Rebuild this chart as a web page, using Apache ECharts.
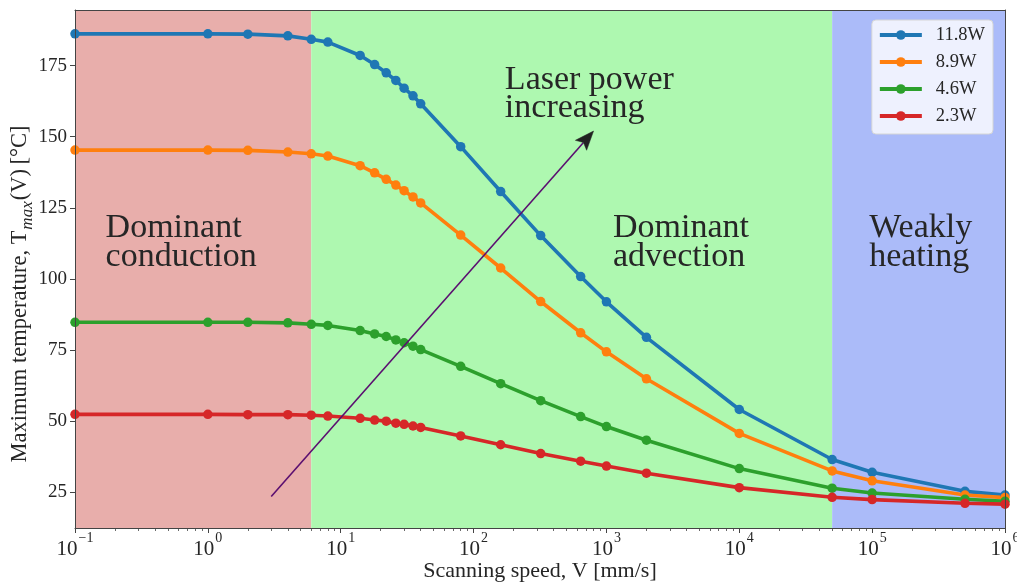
<!DOCTYPE html>
<html><head><meta charset="utf-8">
<script src="https://cdn.jsdelivr.net/npm/echarts@6/dist/echarts.min.js"></script>
<style>html,body{margin:0;padding:0;background:#fff}#c{width:1017px;height:586px}</style>
</head><body><div id="c"></div>
<script>
// ---------- data ----------
const speeds = [0.1,1,2,4,6,8,14,18,22,26,30,35,40,80,160,320,640,1000,2000,10000,50000,100000,500000,1000000];
const seriesNames = ['11.8W','8.9W','4.6W','2.3W'];
const t118 = [186.2,186.2,186.1,185.5,184.3,183.3,178.6,175.4,172.5,169.8,167.1,164.4,161.6,146.5,130.7,115.2,100.8,91.9,79.4,54.0,36.4,31.9,25.2,23.9];
const t89  = [145.3,145.3,145.2,144.6,144.0,143.2,139.8,137.3,135.0,133.0,131.0,128.8,126.7,115.4,103.8,92.0,81.0,74.3,64.8,45.6,32.4,28.9,23.9,23.0];
const t46  = [84.7,84.7,84.7,84.5,84.0,83.6,81.8,80.6,79.7,78.5,77.5,76.3,75.1,69.2,63.1,57.1,51.5,48.0,43.2,33.2,26.3,24.6,22.4,21.7];
const t23  = [52.3,52.3,52.2,52.2,52.0,51.7,50.9,50.3,49.9,49.2,48.8,48.2,47.7,44.7,41.6,38.5,35.8,34.1,31.6,26.5,23.1,22.3,21.0,20.7];
const xTicks = [0.1,1,10,100,1000,10000,100000,1000000];
const yTicks = [25,50,75,100,125,150,175];
const regionBounds = [[0.1,6],[6,50000],[50000,1000000]];
const regionLabels = ['Dominant\nconduction','Dominant\nadvection','Weakly\nheating'];
const regionLabelAnchors = [[0.17,112.7],[1120,112.7],[95000,112.7]];
const arrowText = 'Laser power\nincreasing';
const arrowTextAnchor = [172,165];
const arrowStart = [3,23.4];
const arrowEnd = [800,152];
const xTitle = 'Scanning speed, V [mm/s]';

// ---------- styles ----------
const FONT = "'Liberation Serif','Times New Roman',serif";
const TXT = '#262626';
const colors = ['#1f77b4','#ff7f0e','#2ca02c','#d62728'];
const regionColors = ['#e8aeab','#aef8b0','#abbbf9'];
const seriesData = [t118,t89,t46,t23];

const xMinor = [];
for (let e = -1; e < 6; e++) for (let m = 2; m <= 9; m++) xMinor.push(+(m*Math.pow(10,e)).toPrecision(3));

const chart = echarts.init(document.getElementById('c'), null, {renderer:'canvas'});
const grid = {left:75,right:12,top:10,bottom:58,containLabel:false,outerBoundsMode:'none'};
const X0 = 0.1, X1 = 1000000, Y0 = 12.3, Y1 = 194.6;
const supNum = n => (n<0 ? '\u2212'+(-n) : ''+n);

const option = {
  animation:false,
  backgroundColor:'#fff',
  textStyle:{fontFamily:FONT},
  grid:grid,
  xAxis:[
    {type:'log',logBase:10,min:X0,max:X1,z:10,
     axisLine:{show:true,lineStyle:{color:'#444',width:1}},
     axisTick:{show:true,inside:false,length:5,customValues:xTicks,lineStyle:{color:'#444',width:1}},
     splitLine:{show:false},minorTick:{show:false},minorSplitLine:{show:false},
     axisLabel:{show:true,customValues:xTicks,margin:3,color:TXT,hideOverlap:false,
       formatter:v=>'{b|10}{s|'+supNum(Math.round(Math.log10(v)))+'}',
       rich:{b:{fontFamily:FONT,fontSize:21,color:TXT,lineHeight:29,verticalAlign:'bottom'},
             s:{fontFamily:FONT,fontSize:14,color:TXT,verticalAlign:'top',padding:[0,0,0,1]}}},
     name:xTitle,nameLocation:'middle',nameGap:32,nameMoveOverlap:false,
     nameTextStyle:{fontFamily:FONT,fontSize:22,color:TXT}},
    {type:'log',logBase:10,min:X0,max:X1,position:'bottom',z:10,
     axisLine:{show:false},splitLine:{show:false},axisLabel:{show:false},
     axisTick:{show:true,length:3,customValues:xMinor,lineStyle:{color:'#444',width:0.8}}},
    {type:'log',logBase:10,min:X0,max:X1,position:'top',z:10,
     axisLine:{show:true,lineStyle:{color:'#444',width:1}},splitLine:{show:false},
     axisLabel:{show:false},axisTick:{show:false}}
  ],
  yAxis:[
    {type:'value',min:Y0,max:Y1,z:10,
     axisLine:{show:true,lineStyle:{color:'#444',width:1}},
     axisTick:{show:true,length:5,customValues:yTicks,lineStyle:{color:'#444',width:1}},
     splitLine:{show:false},
     axisLabel:{show:true,customValues:yTicks,margin:8,color:TXT,fontFamily:FONT,fontSize:19}},
    {type:'value',min:Y0,max:Y1,position:'right',z:10,
     axisLine:{show:true,lineStyle:{color:'#444',width:1}},
     axisTick:{show:false},splitLine:{show:false},axisLabel:{show:false}}
  ],
  legend:{
    data:seriesNames,orient:'vertical',right:24,top:20,
    itemWidth:42,itemHeight:12,itemGap:7,
    padding:[5,8,8,6],
    backgroundColor:'rgba(255,255,255,0.8)',borderColor:'#d6d6d6',borderWidth:1,borderRadius:4,
    lineStyle:{width:4},
    textStyle:{fontFamily:FONT,fontSize:18.5,color:TXT,padding:[0,0,0,9],lineHeight:20},
    selectedMode:false
  },
  series:[
    {type:'line',name:'_regions',data:[],z:1,silent:true,
     markArea:{silent:true,
       data:regionBounds.map((b,i)=>[{xAxis:b[0],itemStyle:{color:regionColors[i],opacity:1}},{xAxis:b[1]}])}}
  ].concat(seriesNames.map((nm,i)=>({
    type:'line',name:nm,z:3,
    data:speeds.map((s,j)=>[s,seriesData[i][j]]),
    color:colors[i],
    symbol:'circle',symbolSize:9.5,showSymbol:true,showAllSymbol:true,
    lineStyle:{width:3.6,color:colors[i]},
    itemStyle:{color:colors[i]},
    emphasis:{disabled:true},
    clip:false
  })))
};
chart.setOption(option);

// ---------- annotations (positioned through the axes) ----------
const toPx = p => chart.convertToPixel({xAxisIndex:0,yAxisIndex:0},p);
const g = [];
regionLabels.forEach((t,i)=>{
  const p = toPx(regionLabelAnchors[i]);
  g.push({type:'text',x:p[0],y:p[1],z:20,silent:true,
    style:{text:t,fontFamily:FONT,fontSize:34,fill:TXT,lineHeight:28.5,align:'left',verticalAlign:'middle'}});
});
{
  const p = toPx(arrowTextAnchor);
  g.push({type:'text',x:p[0],y:p[1],z:20,silent:true,
    style:{text:arrowText,fontFamily:FONT,fontSize:34,fill:TXT,lineHeight:28.5,align:'left',verticalAlign:'middle'}});
}
{
  const a = toPx(arrowStart), b = toPx(arrowEnd);
  const dx=b[0]-a[0], dy=b[1]-a[1], L=Math.hypot(dx,dy);
  const ux=dx/L, uy=dy/L, nx=-uy, ny=ux;
  const HL=19, HW=7.5;
  const bx=b[0]-HL*ux, by=b[1]-HL*uy;
  const notch=[b[0]-0.8*HL*ux, b[1]-0.8*HL*uy];
  g.push({type:'line',z:20,silent:true,shape:{x1:a[0],y1:a[1],x2:notch[0],y2:notch[1]},
    style:{stroke:'#5b0f70',lineWidth:1.6}});
  g.push({type:'polygon',z:21,silent:true,
    shape:{points:[[b[0],b[1]],[bx+HW*nx,by+HW*ny],notch,[bx-HW*nx,by-HW*ny]]},
    style:{fill:'#222',stroke:'#222',lineWidth:0.5}});
}
// y axis title (rotated)
g.push({type:'text',x:20,y:294,rotation:Math.PI/2,z:20,silent:true,
  style:{text:'{n|Maximum temperature, T}{sub|max}{n|(V)\u2009[°C]}',align:'center',verticalAlign:'middle',
    rich:{n:{fontFamily:FONT,fontSize:22.5,fill:TXT,lineHeight:22,verticalAlign:'top'},
          sub:{fontFamily:FONT,fontSize:17,fontStyle:'italic',fill:TXT,lineHeight:17,padding:[10,1,0,1],verticalAlign:'top'}}}});
chart.setOption({graphic:g});
</script>
</body></html>
